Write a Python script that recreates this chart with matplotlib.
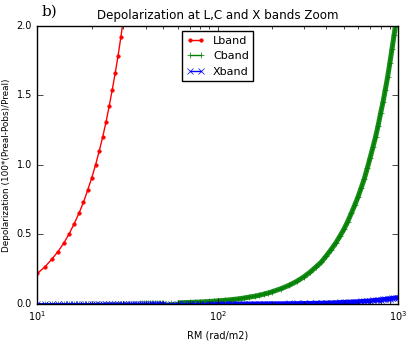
import matplotlib
matplotlib.use("Agg")
import matplotlib.pyplot as plt

# Data
rm_L = [10, 11, 12, 13, 14, 15, 16, 17, 18, 19, 20, 21, 22, 23, 24, 25, 26, 27, 28, 29, 30]
dep_L = [0.22, 0.266, 0.321, 0.376, 0.437, 0.504, 0.578, 0.652, 0.731, 0.818, 0.906,
         0.998, 1.098, 1.199, 1.307, 1.422, 1.54, 1.66, 1.784, 1.916, 2.05]

rm_CX = [10, 11, 12, 13, 14, 15, 16, 17, 18, 19, 20, 21, 22, 23, 24, 25, 26, 27, 28, 29,
         30, 31, 32, 33, 34, 35, 36, 37, 38, 39, 40, 41, 42, 43, 44, 45, 46, 47, 48, 49,
         50, 55, 60, 65, 70, 75, 80, 85, 90, 95, 100, 110, 120, 130, 140, 150, 160, 170,
         180, 190, 200, 225, 250, 275, 300, 325, 350, 375, 400, 425, 450, 475, 500, 525,
         550, 575, 600, 625, 650, 675, 700, 725, 750, 775, 800, 825, 850, 875, 900, 925,
         950, 975, 1000]
dep_C = [0.0002, 0.0003, 0.0003, 0.0004, 0.0004, 0.0005, 0.0005, 0.0006, 0.0007, 0.0008,
         0.0009, 0.0009, 0.001, 0.0011, 0.0012, 0.0013, 0.0014, 0.0016, 0.0017, 0.0018,
         0.0019, 0.002, 0.0022, 0.0023, 0.0025, 0.0026, 0.0028, 0.0029, 0.0031, 0.0032,
         0.0034, 0.0036, 0.0038, 0.0039, 0.0041, 0.0043, 0.0045, 0.0047, 0.0049, 0.0051,
         0.0053, 0.0064, 0.0077, 0.009, 0.0104, 0.012, 0.0136, 0.0154, 0.0173, 0.0192,
         0.022, 0.026, 0.031, 0.036, 0.042, 0.049, 0.055, 0.062, 0.07, 0.078,
         0.087, 0.11, 0.135, 0.163, 0.194, 0.228, 0.265, 0.30, 0.345, 0.39, 0.435, 0.485,
         0.535, 0.59, 0.65, 0.71, 0.77, 0.835, 0.90, 0.975, 1.05, 1.125, 1.20, 1.28, 1.37,
         1.45, 1.54, 1.63, 1.73, 1.83, 1.93, 2.03, 2.13]
dep_X = [0.0, 0.0, 0.0, 0.0, 0.0, 0.0, 0.0, 0.0, 0.0, 0.0,
         0.0, 0.0, 0.0, 0.0, 0.0, 0.0, 0.0, 0.0, 0.0, 0.0,
         0.0, 0.0, 0.0, 0.0, 0.0, 0.0, 0.0, 0.0, 0.0, 0.0,
         0.0, 0.0001, 0.0001, 0.0001, 0.0001, 0.0001, 0.0001, 0.0001, 0.0001, 0.0001,
         0.0001, 0.0001, 0.0001, 0.0002, 0.0002, 0.0002, 0.0003, 0.0003, 0.0004, 0.0004,
         0.0005, 0.0006, 0.0007, 0.0008, 0.001, 0.0011, 0.0012, 0.0014, 0.0016, 0.0018,
         0.002, 0.0025, 0.003, 0.0036, 0.0043, 0.005, 0.0058, 0.0067, 0.0076, 0.0086,
         0.0096, 0.0107, 0.0118, 0.013, 0.0143, 0.0156, 0.017, 0.0184, 0.0199, 0.0215,
         0.023, 0.0247, 0.0264, 0.0282, 0.030, 0.032, 0.034, 0.036, 0.038, 0.040, 0.042,
         0.044, 0.046]

title = "Depolarization at L,C and X bands Zoom"
xlabel = "RM (rad/m2)"
ylabel = "Depolarization (100*(Preal-Pobs)/Preal)"

plt.style.use("classic")
plt.rcParams["font.family"] = ["DejaVu Sans"]

fig = plt.figure(figsize=(4.07, 3.43), dpi=100, facecolor="white")
ax = fig.add_axes([0.092, 0.114, 0.886, 0.811])

# thick bands produced by dense markers in the original
start = rm_CX.index(60)
ax.plot(rm_CX[start:], dep_C[start:], color="g", lw=3.6, solid_capstyle="butt", alpha=0.9)
ax.plot(rm_CX[start:], dep_X[start:], color="b", lw=3.2, solid_capstyle="butt")

ax.plot(rm_L, dep_L, color="r", marker=".", ms=5, lw=1, label="Lband")
ax.plot(rm_CX, dep_C, color="g", marker="+", ms=5, lw=1, label="Cband")
ax.plot(rm_CX, dep_X, color="b", marker="x", ms=4, lw=1, label="Xband")

ax.set_xscale("log")
ax.set_xlim(10, 1000)
ax.set_ylim(0, 2.0)
ax.set_yticks([0.0, 0.5, 1.0, 1.5, 2.0])
ax.tick_params(labelsize=7)
ax.set_title(title, fontsize=8.6)
ax.set_xlabel(xlabel, fontsize=7)
ax.set_ylabel(ylabel, fontsize=6.4)
ax.yaxis.set_label_coords(-0.072, 0.5)

leg = ax.legend(loc="upper center", fontsize=8, numpoints=2, handlelength=1.6,
                borderpad=0.4, handletextpad=0.8)

fig.text(0.103, 0.955, "b)", fontsize=11, family="DejaVu Serif")

fig.savefig("out.png", dpi=100, facecolor="white")
